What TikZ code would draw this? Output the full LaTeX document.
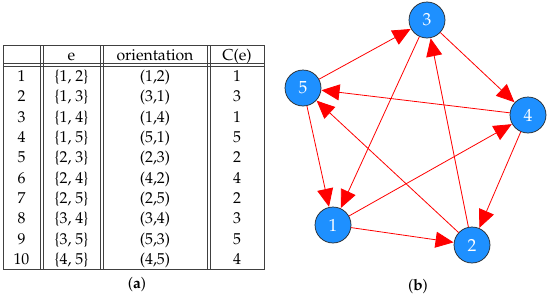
\documentclass[tikz,border=0pt]{standalone}
\usepackage[T1]{fontenc}
\usepackage{mathpazo}
\usetikzlibrary{arrows.meta}
\definecolor{nodeblue}{RGB}{30,144,255}
\newcommand{\tabrow}[4]{%
  \pgfmathsetmacro{\yy}{66+20.3*(#1-0.5)+5.5}
  \node[cell] (n#1) at (21.5,\yy) {#1};
  \node[cell] (e#1) at (71.5,\yy) {\{#2\}};
  \node[cell] (o#1) at (155,\yy) {#3};
  \node[cell] (c#1) at (237,\yy) {#4};
}
\begin{document}
\begin{tikzpicture}[x=1pt,y=-1pt,
  tline/.style={line width=0.7pt,black!75},
  cell/.style={font=\fontsize{15.8}{18}\selectfont,anchor=base,inner sep=0pt},
  vtx/.style={circle,draw=black!85,line width=0.7pt,fill=nodeblue,minimum size=36pt,inner sep=0pt,text=white,font=\fontsize{17.5}{18}\selectfont},
  edge/.style={red,line width=0.8pt,-{Triangle[length=18pt,width=16pt]},shorten >=0.3pt},
  capt/.style={font=\fontsize{15.5}{16}\selectfont,inner sep=0pt}
]
\useasboundingbox (0,0) rectangle (550,300);
% ---- table lines
\draw[tline] (3,45) rectangle (264,269);
\draw[tline] (3,63) -- (264,63);
\draw[tline] (3,66) -- (264,66);
\foreach \x in {40,43,100,103,207,210} {\draw[tline] (\x,45) -- (\x,269);}
% ---- header
\node[cell] (h2) at (71.5,60) {e};
\node[cell] (h3) at (155,60) {orientation};
\node[cell] (h4) at (237,60) {C(e)};
% ---- rows
\tabrow{1}{1, 2}{(1,2)}{1}
\tabrow{2}{1, 3}{(3,1)}{3}
\tabrow{3}{1, 4}{(1,4)}{1}
\tabrow{4}{1, 5}{(5,1)}{5}
\tabrow{5}{2, 3}{(2,3)}{2}
\tabrow{6}{2, 4}{(4,2)}{4}
\tabrow{7}{2, 5}{(2,5)}{2}
\tabrow{8}{3, 4}{(3,4)}{3}
\tabrow{9}{3, 5}{(5,3)}{5}
\tabrow{10}{4, 5}{(4,5)}{4}
\node[capt] (capa) at (137,285) {(\textbf{a})};
% ---- graph
\node[vtx] (v3) at (427,20) {3};
\node[vtx] (v5) at (303,88) {5};
\node[vtx] (v4) at (528,115) {4};
\node[vtx] (v1) at (333,225) {1};
\node[vtx] (v2) at (472,245) {2};
\draw[edge] (v1) -- (v2);
\draw[edge] (v3) -- (v1);
\draw[edge] (v1) -- (v4);
\draw[edge] (v5) -- (v1);
\draw[edge] (v2) -- (v3);
\draw[edge] (v4) -- (v2);
\draw[edge] (v2) -- (v5);
\draw[edge] (v3) -- (v4);
\draw[edge] (v5) -- (v3);
\draw[edge] (v4) -- (v5);
\node[capt] (capb) at (418,287) {(\textbf{b})};
\end{tikzpicture}
\end{document}
